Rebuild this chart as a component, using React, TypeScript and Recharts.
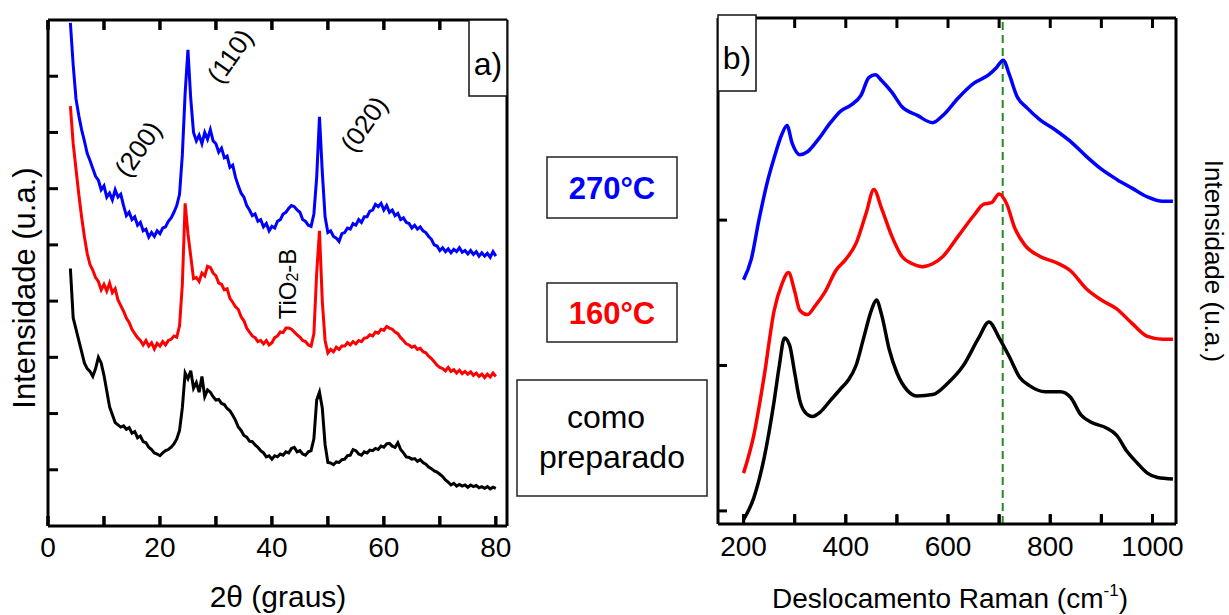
import React from 'react';
import { LineChart, Line, XAxis, YAxis, ReferenceLine } from 'recharts';

const FONT = '"Liberation Sans", Arial, Helvetica, sans-serif';

// ---------- Panel a) XRD ----------
const xrdTheta = [
  4, 4.5, 5, 5.5, 6, 6.5, 7, 7.5, 8, 8.5, 9, 9.5, 10, 10.5, 11, 11.5, 12, 12.5, 13, 13.5,
  14, 14.5, 15, 15.5, 16, 16.5, 17, 17.5, 18, 18.5, 19, 19.5, 20, 20.5, 21, 21.5, 22, 22.5, 23, 23.5,
  24, 24.5, 25, 25.5, 26, 26.5, 27, 27.5, 28, 28.5, 29, 29.5, 30, 30.5, 31, 31.5, 32, 32.5, 33, 33.5,
  34, 34.5, 35, 35.5, 36, 36.5, 37, 37.5, 38, 38.5, 39, 39.5, 40, 40.5, 41, 41.5, 42, 42.5, 43, 43.5,
  44, 44.5, 45, 45.5, 46, 46.5, 47, 47.5, 48, 48.5, 49, 49.5, 50, 50.5, 51, 51.5, 52, 52.5, 53, 53.5,
  54, 54.5, 55, 55.5, 56, 56.5, 57, 57.5, 58, 58.5, 59, 59.5, 60, 60.5, 61, 61.5, 62, 62.5, 63, 63.5,
  64, 64.5, 65, 65.5, 66, 66.5, 67, 67.5, 68, 68.5, 69, 69.5, 70, 70.5, 71, 71.5, 72, 72.5, 73, 73.5,
  74, 74.5, 75, 75.5, 76, 76.5, 77, 77.5, 78, 78.5, 79, 79.5, 80,
];

const xrd270 = [
  8.95, 8.2, 7.6, 7.3, 7.05, 6.85, 6.63, 6.5, 6.36, 6.22, 6.15, 5.98, 6.05, 5.85, 5.92, 5.8, 5.98, 5.85, 5.9, 5.7,
  5.52, 5.58, 5.45, 5.5, 5.35, 5.4, 5.25, 5.28, 5.14, 5.22, 5.15, 5.25, 5.2, 5.3, 5.32, 5.42, 5.48, 5.58, 5.7, 5.9,
  6.6, 7.7, 8.47, 7.6, 7.0, 6.85, 6.95, 6.8, 7.0, 6.88, 7.05, 6.85, 6.8, 6.65, 6.72, 6.55, 6.58, 6.38, 6.42, 6.2,
  6.05, 5.92, 5.85, 5.7, 5.62, 5.52, 5.55, 5.42, 5.45, 5.32, 5.38, 5.25, 5.33, 5.3, 5.42, 5.45, 5.55, 5.58, 5.65, 5.7,
  5.68, 5.62, 5.58, 5.45, 5.42, 5.35, 5.33, 5.55, 6.2, 7.28, 6.3, 5.5, 5.22, 5.25, 5.15, 5.12, 5.06, 5.2, 5.22, 5.3,
  5.28, 5.38, 5.35, 5.45, 5.4, 5.5, 5.5, 5.6, 5.62, 5.72, 5.68, 5.74, 5.62, 5.7, 5.58, 5.62, 5.52, 5.56, 5.45, 5.48,
  5.4, 5.38, 5.3, 5.35, 5.28, 5.32, 5.25, 5.22, 5.15, 5.1, 5.0, 4.98, 4.9, 4.95, 4.88, 4.93, 4.86, 4.92, 4.88, 4.95,
  4.87, 4.9, 4.84, 4.9, 4.83, 4.88, 4.8, 4.86, 4.8, 4.85, 4.78, 4.88, 4.8,
];

const xrd160 = [
  7.47, 6.8, 6.35, 5.9, 5.5, 5.15, 4.85, 4.65, 4.55, 4.42, 4.35, 4.2, 4.3, 4.18, 4.32, 4.15, 4.22, 4.02, 3.92, 3.82,
  3.7, 3.62, 3.5, 3.42, 3.35, 3.3, 3.22, 3.3, 3.2, 3.26, 3.15, 3.25, 3.2, 3.28, 3.22, 3.3, 3.32, 3.38, 3.36, 3.56,
  4.3, 5.74, 5.2, 4.8, 4.4, 4.42, 4.35, 4.5, 4.45, 4.62, 4.6, 4.5, 4.45, 4.32, 4.3, 4.2, 4.22, 4.05, 3.98, 3.9,
  3.85, 3.72, 3.65, 3.52, 3.45, 3.38, 3.35, 3.28, 3.3, 3.24, 3.3, 3.22, 3.26, 3.35, 3.38, 3.45, 3.44, 3.52, 3.52, 3.5,
  3.45, 3.4, 3.36, 3.3, 3.28, 3.22, 3.2, 3.42, 4.5, 5.25, 4.0, 3.3, 3.08, 3.14, 3.1, 3.18, 3.14, 3.2, 3.2, 3.26,
  3.22, 3.28, 3.24, 3.3, 3.28, 3.34, 3.35, 3.4, 3.38, 3.45, 3.43, 3.5, 3.48, 3.55, 3.52, 3.5, 3.45, 3.42, 3.35, 3.3,
  3.24, 3.22, 3.18, 3.2, 3.14, 3.16, 3.1, 3.08, 3.02, 2.98, 2.92, 2.86, 2.82, 2.8, 2.76, 2.82, 2.75, 2.78, 2.72, 2.77,
  2.71, 2.75, 2.7, 2.74, 2.68, 2.72, 2.66, 2.7, 2.64, 2.7, 2.65, 2.72, 2.66,
];

const xrdPrep = [
  4.58, 3.7, 3.5, 3.3, 3.1, 2.9, 2.8, 2.75, 2.66, 2.8, 3.0, 2.9, 2.68, 2.4, 2.12, 1.98, 1.84, 1.8, 1.76, 1.78,
  1.72, 1.75, 1.65, 1.68, 1.57, 1.6, 1.5, 1.48, 1.4, 1.36, 1.3, 1.28, 1.25, 1.3, 1.34, 1.36, 1.4, 1.46, 1.55, 1.7,
  2.1, 2.72, 2.62, 2.76, 2.45, 2.55, 2.38, 2.66, 2.3, 2.42, 2.38, 2.3, 2.24, 2.25, 2.18, 2.16, 2.09, 2.05, 1.97, 1.88,
  1.76, 1.7, 1.61, 1.58, 1.51, 1.5, 1.44, 1.4, 1.34, 1.3, 1.23, 1.25, 1.19, 1.25, 1.23, 1.28, 1.26, 1.32, 1.3, 1.38,
  1.4, 1.32, 1.34, 1.28, 1.26, 1.32, 1.34, 1.55, 2.24, 2.38, 2.1, 1.45, 1.13, 1.12, 1.09, 1.14, 1.13, 1.18, 1.19, 1.25,
  1.26, 1.36, 1.34, 1.28, 1.26, 1.32, 1.3, 1.35, 1.34, 1.38, 1.36, 1.42, 1.4, 1.46, 1.47, 1.42, 1.4, 1.48, 1.36, 1.3,
  1.23, 1.22, 1.19, 1.2, 1.15, 1.18, 1.13, 1.1, 1.05, 1.02, 0.98, 0.96, 0.92, 0.88, 0.82, 0.78, 0.73, 0.76, 0.71, 0.74,
  0.71, 0.73, 0.69, 0.73, 0.7, 0.72, 0.68, 0.7, 0.67, 0.7, 0.66, 0.69, 0.67,
];

const xrdXTicks = [0, 10, 20, 30, 40, 50, 60, 70, 80];
const xrdXLabels = [0, 20, 40, 60, 80];
const xrdYTicks = [1, 2, 3, 4, 5, 6, 7, 8];
const xrdXDomain = [0, 82];
const xrdYDomain = [0, 9];

// ---------- Panel b) Raman ----------
const ramanPrepX = [200, 220, 240, 260, 270, 280, 290, 300, 310, 320, 335, 350, 370, 390, 405, 420, 435, 450, 460, 470, 485, 500, 520, 540, 570, 600, 630, 660, 680, 700, 720, 740, 760, 790, 820, 840, 860, 880, 910, 930, 950, 970, 990, 1010, 1040];
const ramanPrepY = [-0.06, 0.09, 0.36, 0.76, 1.0, 1.19, 1.14, 0.95, 0.76, 0.68, 0.65, 0.68, 0.76, 0.84, 0.9, 1.0, 1.19, 1.38, 1.45, 1.35, 1.11, 0.95, 0.83, 0.79, 0.8, 0.88, 1.0, 1.19, 1.3, 1.19, 1.06, 0.92, 0.86, 0.82, 0.82, 0.78, 0.66, 0.61, 0.57, 0.52, 0.41, 0.33, 0.26, 0.23, 0.22];

const raman160X = [200, 220, 240, 260, 275, 288, 300, 310, 325, 340, 360, 380, 400, 420, 440, 455, 470, 490, 510, 530, 550, 570, 590, 620, 650, 670, 685, 700, 715, 730, 750, 780, 810, 840, 870, 900, 930, 960, 990, 1020, 1040];
const raman160Y = [0.26, 0.52, 0.92, 1.38, 1.56, 1.64, 1.51, 1.38, 1.35, 1.41, 1.51, 1.65, 1.73, 1.84, 2.05, 2.21, 2.08, 1.89, 1.75, 1.7, 1.68, 1.7, 1.75, 1.89, 2.03, 2.11, 2.12, 2.18, 2.11, 1.95, 1.83, 1.75, 1.71, 1.65, 1.53, 1.45, 1.39, 1.29, 1.2, 1.18, 1.18];

const raman270X = [200, 215, 230, 245, 260, 275, 285, 295, 310, 325, 345, 370, 390, 410, 430, 445, 458, 470, 490, 510, 540, 570, 590, 620, 650, 680, 695, 708, 720, 735, 755, 780, 810, 840, 870, 900, 930, 960, 990, 1020, 1040];
const raman270Y = [1.59, 1.73, 2.0, 2.24, 2.43, 2.59, 2.65, 2.53, 2.45, 2.47, 2.55, 2.67, 2.75, 2.79, 2.86, 2.98, 3.0, 2.96, 2.88, 2.78, 2.72, 2.67, 2.72, 2.84, 2.94, 3.0, 3.05, 3.1, 3.0, 2.85, 2.77, 2.69, 2.62, 2.54, 2.44, 2.35, 2.28, 2.22, 2.16, 2.13, 2.13];

const ramanXTicks = [200, 300, 400, 500, 600, 700, 800, 900, 1000];
const ramanXLabels = [200, 400, 600, 800, 1000];
const ramanYTicks = [0, 1, 2, 3];
const ramanXDomain = [150, 1046];
const ramanYDomain = [-0.09, 3.39];
const ramanMarker = 707;

// ---------- Build rows ----------
const xrdRows = xrdTheta.map((t, i) => ({ t, s270: xrd270[i], s160: xrd160[i], prep: xrdPrep[i] }));
const toRows = (xs: number[], ys: number[]) => xs.map((x, i) => ({ x, v: ys[i] }));
const ramanPrepRows = toRows(ramanPrepX, ramanPrepY);
const raman160Rows = toRows(raman160X, raman160Y);
const raman270Rows = toRows(raman270X, raman270Y);

const PLOT_H = 506; // plot-area height (px) of both panels, for converting tick length to data units
const X_TICK_PX = 10;
const frameLine: any = { stroke: '#000', strokeWidth: 3 };
const TICK_W = 3;

// bottom axis: inward tick mark + label below
const bottomTick = (len: number, labels: number[], labelDy: number) => (p: any) => {
  const x = Number(p.x);
  const y = Number(p.y);
  return (
    <g>
      <path d={`M${x},${y} L${x},${y - len}`} stroke="#000" strokeWidth={TICK_W} fill="none" />
      {labels.includes(p.payload.value) ? (
        <text x={x} y={y + labelDy} textAnchor="middle" fontSize={28} fill="#000" fontFamily={FONT}>
          {p.payload.value}
        </text>
      ) : null}
    </g>
  );
};
const topTick = (len: number) => (p: any) => {
  const x = Number(p.x);
  const y = Number(p.y);
  return <path d={`M${x},${y} L${x},${y + len}`} stroke="#000" strokeWidth={TICK_W} fill="none" />;
};
const leftTick = (len: number) => (p: any) => (
  <line x1={p.x} y1={p.y} x2={p.x + len} y2={p.y} stroke="#000" strokeWidth={TICK_W} />
);
const rightTick = (len: number) => (p: any) => (
  <line x1={p.x} y1={p.y} x2={p.x - len} y2={p.y} stroke="#000" strokeWidth={TICK_W} />
);

// the same inward x tick marks, also placed through the chart scales
const xTickMarks = (ticks: number[], yDom: number[], key: string) => {
  const u = (X_TICK_PX * (yDom[1] - yDom[0])) / PLOT_H;
  const out: any[] = [];
  ticks.forEach((t) => {
    out.push(
      <ReferenceLine key={`${key}b${t}`} xAxisId="b" yAxisId="l" segment={[{ x: t, y: yDom[0] }, { x: t, y: yDom[0] + u }]}
        stroke="#000" strokeWidth={TICK_W} ifOverflow="visible" />
    );
    out.push(
      <ReferenceLine key={`${key}t${t}`} xAxisId="b" yAxisId="l" segment={[{ x: t, y: yDom[1] - u }, { x: t, y: yDom[1] }]}
        stroke="#000" strokeWidth={TICK_W} ifOverflow="visible" />
    );
  });
  return out;
};

export default function App() {
  return (
    <div style={{ position: 'absolute', left: 0, top: 0, width: 1229, height: 615, background: '#fff', fontFamily: FONT }}>
      {/* Panel a */}
      <div style={{ position: 'absolute', left: 0, top: 0 }}>
        <LineChart width={520} height={615} data={xrdRows} margin={{ top: 15, left: 43, right: 8, bottom: 39 }}>
          <XAxis xAxisId="b" dataKey="t" type="number" domain={xrdXDomain} ticks={xrdXTicks}
            interval={0} height={50} tickSize={0} tickMargin={0} tickLine={false}
            tick={bottomTick(X_TICK_PX, xrdXLabels, 31)} axisLine={frameLine} />
          <XAxis xAxisId="t" dataKey="t" type="number" orientation="top" domain={xrdXDomain} ticks={xrdXTicks}
            interval={0} height={5} tickSize={0} tickMargin={0} tickLine={false}
            tick={topTick(X_TICK_PX)} axisLine={frameLine} />
          <YAxis yAxisId="l" type="number" domain={xrdYDomain} ticks={xrdYTicks} interval={0}
            width={5} tickSize={0} tickMargin={0} tickLine={false} tick={leftTick(10)} axisLine={frameLine} />
          <YAxis yAxisId="r" type="number" orientation="right" domain={xrdYDomain} ticks={xrdYTicks} interval={0}
            width={5} tickSize={0} tickMargin={0} tickLine={false} tick={rightTick(10)} axisLine={frameLine} />
          {xTickMarks(xrdXTicks, xrdYDomain, 'a')}
          <Line xAxisId="b" yAxisId="l" type="linear" dataKey="prep" stroke="#000000" strokeWidth={3} dot={false} isAnimationActive={false} />
          <Line xAxisId="b" yAxisId="l" type="linear" dataKey="s160" stroke="#ff0000" strokeWidth={3} dot={false} isAnimationActive={false} />
          <Line xAxisId="b" yAxisId="l" type="linear" dataKey="s270" stroke="#0000ff" strokeWidth={3} dot={false} isAnimationActive={false} />
        </LineChart>
      </div>

      {/* Panel b */}
      <div style={{ position: 'absolute', left: 700, top: 0 }}>
        <LineChart width={529} height={615} margin={{ top: 13, left: 13, right: 48, bottom: 41 }}>
          <XAxis xAxisId="b" dataKey="x" type="number" domain={ramanXDomain} ticks={ramanXTicks}
            interval={0} height={50} tickSize={0} tickMargin={0} tickLine={false}
            tick={bottomTick(9, ramanXLabels, 32)} axisLine={frameLine} />
          <XAxis xAxisId="t" dataKey="x" type="number" orientation="top" domain={ramanXDomain} ticks={ramanXTicks}
            interval={0} height={5} tickSize={0} tickMargin={0} tickLine={false}
            tick={topTick(9)} axisLine={frameLine} />
          <YAxis yAxisId="l" type="number" domain={ramanYDomain} ticks={ramanYTicks} interval={0}
            width={5} tickSize={0} tickMargin={0} tickLine={false} tick={leftTick(9)} axisLine={frameLine} />
          <YAxis yAxisId="r" type="number" orientation="right" domain={ramanYDomain} ticks={ramanYTicks} interval={0}
            width={5} tickSize={0} tickMargin={0} tickLine={false} tick={rightTick(9)} axisLine={frameLine} />
          {xTickMarks(ramanXTicks, ramanYDomain, 'b')}
          <ReferenceLine xAxisId="b" yAxisId="l" x={ramanMarker} stroke="#228b22" strokeWidth={2} strokeDasharray="8 5" />
          <Line xAxisId="b" yAxisId="l" data={ramanPrepRows} type="monotone" dataKey="v" stroke="#000000" strokeWidth={3.5} dot={false} isAnimationActive={false} />
          <Line xAxisId="b" yAxisId="l" data={raman160Rows} type="monotone" dataKey="v" stroke="#ff0000" strokeWidth={3.5} dot={false} isAnimationActive={false} />
          <Line xAxisId="b" yAxisId="l" data={raman270Rows} type="monotone" dataKey="v" stroke="#0000ff" strokeWidth={3.5} dot={false} isAnimationActive={false} />
        </LineChart>
      </div>

      {/* Text overlay */}
      <svg width={1229} height={615} style={{ position: 'absolute', left: 0, top: 0, pointerEvents: 'none' }} fontFamily={FONT}>
        <text transform="translate(24,288) rotate(-90)" textAnchor="middle" dominantBaseline="central" fontSize={31} fill="#000">Intensidade (u.a.)</text>
        <text transform="translate(1214,261) rotate(90)" textAnchor="middle" dominantBaseline="central" fontSize={26} fill="#000">Intensidade (u.a.)</text>
        <text x={278} y={607} textAnchor="middle" fontSize={30} fill="#000">2θ (graus)</text>
        <text x={950} y={608} textAnchor="middle" fontSize={28} fill="#000">
          Deslocamento Raman (cm<tspan dy={-12} fontSize={17}>-1</tspan><tspan dy={12}>)</tspan>
        </text>

        <text transform="translate(138,149) rotate(-55)" textAnchor="middle" dominantBaseline="central" fontSize={26} fill="#000">(200)</text>
        <text transform="translate(230,56) rotate(-55)" textAnchor="middle" dominantBaseline="central" fontSize={26} fill="#000">(110)</text>
        <text transform="translate(364,124) rotate(-55)" textAnchor="middle" dominantBaseline="central" fontSize={26} fill="#000">(020)</text>
        <text transform="translate(287,284) rotate(-90)" textAnchor="middle" dominantBaseline="central" fontSize={24} fill="#000">
          TiO<tspan dy={5} fontSize={16}>2</tspan><tspan dy={-5}>-B</tspan>
        </text>

        <rect x={469} y={20} width={38} height={76} fill="#fff" stroke="#111" strokeWidth={1.5} />
        <text x={488} y={75} textAnchor="middle" fontSize={32} fill="#000">a)</text>
        <rect x={718} y={15} width={38} height={76} fill="#fff" stroke="#111" strokeWidth={1.5} />
        <text x={737} y={69} textAnchor="middle" fontSize={32} fill="#000">b)</text>

        <rect x={547} y={157} width={130} height={61} fill="#fff" stroke="#222" strokeWidth={1.5} />
        <text x={612} y={188} textAnchor="middle" dominantBaseline="central" fontSize={31} fontWeight="bold" fill="#0000ff">270°C</text>
        <rect x={547} y={283} width={130} height={59} fill="#fff" stroke="#222" strokeWidth={1.5} />
        <text x={612} y={313} textAnchor="middle" dominantBaseline="central" fontSize={31} fontWeight="bold" fill="#ff0000">160°C</text>
        <rect x={517} y={380} width={190} height={116} fill="#fff" stroke="#222" strokeWidth={1.5} />
        <text x={606} y={428} textAnchor="middle" fontSize={32} fill="#000">como</text>
        <text x={612} y={468} textAnchor="middle" fontSize={32} fill="#000">preparado</text>
      </svg>
    </div>
  );
}
